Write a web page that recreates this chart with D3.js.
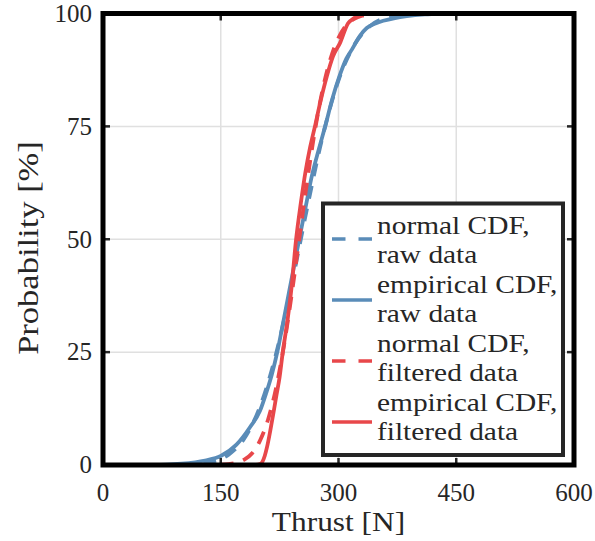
<!DOCTYPE html>
<html>
<head>
<meta charset="utf-8">
<title>Thrust CDF</title>
<style>
    body { margin: 0; background: #fff; }
    svg text { font-family: "Liberation Serif", serif; fill: #262626; }
    .grid line { stroke: #e0e0e0; stroke-width: 1.5px; }
    .tick-mark { stroke: #262626; stroke-width: 2.5px; }
    .curve { fill: none; stroke-width: 3.8px; }
</style>
</head>
<body>
<svg id="chart" width="595" height="541"></svg>
<script src="https://d3js.org/d3.v7.min.js"></script>
<script>
// axis ticks
const xTicks = [0, 150, 300, 450, 600];
const yTicks = [0, 25, 50, 75, 100];

// normal CDF fitted to the raw data
const rawNormalX = [40, 80, 100, 120, 140, 160, 180, 200, 220, 240, 260, 280, 300, 320, 340, 360, 380, 400, 420, 450];
const rawNormalP = [0, 0.01, 0.05, 0.2, 0.75, 2.3, 5.9, 12.9, 24.3, 39.7, 56.9, 72.9, 85.2, 93.0, 97.2, 99.06, 99.73, 99.94, 99.99, 100];

// empirical CDF of the raw data
const rawEmpX = [40, 80, 100, 130, 150, 170, 187, 200, 208, 215, 222, 230, 240, 250, 258, 266, 275, 283, 292, 301, 310, 317, 327, 336, 347, 357, 372, 387, 410, 430];
const rawEmpP = [0, 0.1, 0.3, 1, 2, 4.5, 8.3, 12, 16, 20, 25, 32, 41, 50, 57, 64, 70, 75, 81, 86, 90, 92, 95, 96.8, 97.8, 98.4, 99, 99.4, 99.8, 100];

// normal CDF fitted to the filtered data
const filtNormalX = [150, 160, 170, 180, 190, 200, 210, 220, 230, 240, 250, 260, 270, 280, 290, 300, 310, 320, 330, 340, 350];
const filtNormalP = [0.07, 0.19, 0.5, 1.2, 2.6, 5.4, 9.9, 16.7, 25.9, 37.3, 50, 62.7, 74.1, 83.3, 90.1, 94.6, 97.4, 98.8, 99.5, 99.8, 99.95];

// empirical CDF of the filtered data
const filtEmpX = [195, 200, 203, 206, 209, 213, 217, 221, 225, 229, 235, 240, 246, 252, 258, 264, 270, 277, 285, 293, 302, 312, 320, 328, 360];
const filtEmpP = [0, 0.2, 0.7, 2, 4, 7.5, 11.4, 15.5, 19.5, 25, 32, 39, 50, 58, 65, 70.5, 75, 80.5, 86, 90.5, 93.5, 97.8, 99, 100, 100];

const seriesNames = [["normal CDF,", "raw data"], ["empirical CDF,", "raw data"],
                     ["normal CDF,", "filtered data"], ["empirical CDF,", "filtered data"]];
const seriesColors = ["#5a8cb8", "#5a8cb8", "#e8474a", "#e8474a"];
const seriesDashed = [true, false, true, false];

const series = [
    d3.zip(rawNormalX, rawNormalP),
    d3.zip(rawEmpX, rawEmpP),
    d3.zip(filtNormalX, filtNormalP),
    d3.zip(filtEmpX, filtEmpP)
];

const svg = d3.select('#chart');
const plotL = 103, plotR = 574, plotT = 13.5, plotB = 465;

const x = d3.scaleLinear().domain([0, 600]).range([plotL, plotR]);
const y = d3.scaleLinear().domain([0, 100]).range([plotB, plotT]);

// stretch text a little so Liberation Serif looks closer to the wider TeX font
function stretch(sel, k) {
    sel.each(function () {
        const w = this.getComputedTextLength();
        d3.select(this).attr('textLength', w * k).attr('lengthAdjust', 'spacingAndGlyphs');
    });
}

// grid
const grid = svg.append('g').attr('class', 'grid');
grid.selectAll('line.gx').data(xTicks.slice(1, -1)).join('line')
    .attr('class', 'gx')
    .attr('x1', d => x(d)).attr('x2', d => x(d)).attr('y1', plotT).attr('y2', plotB);
grid.selectAll('line.gy').data(yTicks.slice(1, -1)).join('line')
    .attr('class', 'gy')
    .attr('y1', d => y(d)).attr('y2', d => y(d)).attr('x1', plotL).attr('x2', plotR);

svg.append('clipPath').attr('id', 'plotclip')
    .append('rect').attr('x', plotL).attr('y', plotT).attr('width', plotR - plotL).attr('height', plotB - plotT);

// curves
const line = d3.line().x(d => x(d[0])).y(d => y(d[1])).curve(d3.curveMonotoneX);
svg.append('g').attr('clip-path', 'url(#plotclip)')
    .selectAll('path').data(series).join('path')
    .attr('class', 'curve')
    .attr('d', line)
    .attr('stroke', (d, i) => seriesColors[i])
    .attr('stroke-dasharray', (d, i) => seriesDashed[i] ? '13,10' : null);

// inward tick marks on all four sides
const ticks = svg.append('g');
xTicks.slice(1, -1).forEach(t => {
    ticks.append('line').attr('class', 'tick-mark').attr('x1', x(t)).attr('x2', x(t)).attr('y1', plotB).attr('y2', plotB - 7);
    ticks.append('line').attr('class', 'tick-mark').attr('x1', x(t)).attr('x2', x(t)).attr('y1', plotT).attr('y2', plotT + 7);
});
yTicks.slice(1, -1).forEach(t => {
    ticks.append('line').attr('class', 'tick-mark').attr('y1', y(t)).attr('y2', y(t)).attr('x1', plotL).attr('x2', plotL + 7);
    ticks.append('line').attr('class', 'tick-mark').attr('y1', y(t)).attr('y2', y(t)).attr('x1', plotR).attr('x2', plotR - 7);
});

// frame
svg.append('rect')
    .attr('x', plotL).attr('y', plotT).attr('width', plotR - plotL).attr('height', plotB - plotT)
    .attr('fill', 'none').attr('stroke', '#000').attr('stroke-width', 5);

// tick labels
svg.append('g').selectAll('text').data(xTicks).join('text')
    .attr('x', d => x(d)).attr('y', 501)
    .attr('text-anchor', 'middle').attr('font-size', 25)
    .text(d => d);
svg.append('g').selectAll('text').data(yTicks).join('text')
    .attr('x', 92).attr('y', d => y(d)).attr('dy', '0.33em')
    .attr('text-anchor', 'end').attr('font-size', 25)
    .text(d => d);

// axis labels
svg.append('text')
    .attr('x', (plotL + plotR) / 2).attr('y', 531)
    .attr('text-anchor', 'middle').attr('font-size', 28)
    .text('Thrust [N]')
    .call(stretch, 1.12);
svg.append('text')
    .attr('transform', 'translate(38,248) rotate(-90)')
    .attr('text-anchor', 'middle').attr('font-size', 30)
    .text('Probability [%]')
    .call(stretch, 1.15);

// legend
const legend = svg.append('g');
legend.append('rect')
    .attr('x', 323).attr('y', 203.5).attr('width', 240).attr('height', 251.5)
    .attr('fill', '#fff').attr('stroke', '#262626').attr('stroke-width', 4);

seriesNames.forEach((names, i) => {
    const ly = 239 + 61 * i;
    legend.append('line')
        .attr('x1', 332).attr('x2', 372).attr('y1', ly).attr('y2', ly)
        .attr('stroke', seriesColors[i]).attr('stroke-width', 3.5)
        .attr('stroke-dasharray', seriesDashed[i] ? '13.5,13' : null);
    names.forEach((n, j) => {
        legend.append('text')
            .attr('x', 377).attr('y', 225 + 29.5 * (2 * i + j)).attr('dy', '0.33em')
            .attr('font-size', 26)
            .text(n)
            .call(stretch, 1.13);
    });
});
</script>
</body>
</html>
